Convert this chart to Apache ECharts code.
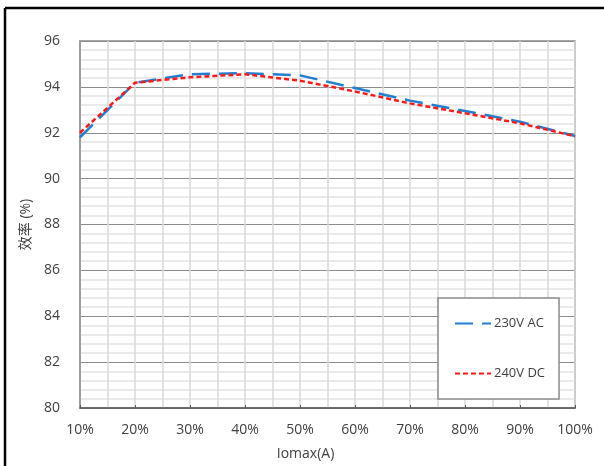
<!DOCTYPE html>
<html>
<head>
<meta charset="utf-8">
<script src="https://cdn.jsdelivr.net/npm/echarts@6/dist/echarts.min.js"></script>
<style>
html,body{margin:0;padding:0;background:#fff;}
#c{width:604px;height:466px;}
</style>
</head>
<body>
<div id="c"></div>
<script>
const loadPct = [10, 20, 30, 40, 50, 60, 70, 80, 90, 100];
const ac230 = [91.8, 94.18, 94.55, 94.6, 94.5, 93.95, 93.4, 92.95, 92.48, 91.86];
const dc240 = [92.0, 94.18, 94.42, 94.55, 94.27, 93.8, 93.28, 92.85, 92.41, 91.85];
const seriesNames = ['230V AC', '240V DC'];
const xAxisName = 'Iomax(A)';
const yAxisName = '效率 (%)';

const font = '"Open Sans", "Noto Sans CJK SC", sans-serif';
const chart = echarts.init(document.getElementById('c'), null, {renderer: 'canvas'});
chart.setOption({
  animation: false,
  backgroundColor: '#fff',
  textStyle: {fontFamily: font},
  grid: {left: 80, right: 29, top: 41, bottom: 58, show: true, borderColor: '#8c8c8c', borderWidth: 1.5},
  graphic: [
    {type: 'line', shape: {x1: 5, y1: 8, x2: 604, y2: 8}, style: {stroke: '#000', lineWidth: 2.5}},
    {type: 'line', shape: {x1: 5, y1: 8, x2: 5, y2: 466}, style: {stroke: '#000', lineWidth: 2.5}}
  ],
  legend: {
    orient: 'vertical',
    left: 438,
    top: 298,
    padding: [19, 14, 19, 16],
    itemGap: 37,
    itemWidth: 36,
    itemHeight: 14,
    backgroundColor: '#fff',
    borderColor: '#8c8c8c',
    borderWidth: 1.5,
    itemStyle: {opacity: 0},
    textStyle: {fontSize: 13, color: '#404040', fontFamily: font, padding: [0, 0, 0, -2]},
    data: seriesNames
  },
  xAxis: {
    type: 'value',
    min: 10, max: 100, interval: 10,
    name: xAxisName,
    nameLocation: 'middle',
    nameGap: 39,
    nameTextStyle: {fontSize: 14, color: '#404040', padding: [0, 44, 0, 0]},
    axisLine: {show: true, lineStyle: {color: '#595959', width: 1.5}},
    axisTick: {show: true, inside: true, length: 3, lineStyle: {color: '#595959'}},
    axisLabel: {formatter: '{value}%', fontSize: 14, color: '#404040', margin: 15},
    splitLine: {show: true, lineStyle: {color: '#d9d9d9', width: 1.5}},
    minorTick: {show: false, splitNumber: 2},
    minorSplitLine: {show: true, lineStyle: {color: '#d9d9d9', width: 1.5}}
  },
  yAxis: {
    type: 'value',
    min: 80, max: 96, interval: 2,
    name: yAxisName,
    nameLocation: 'middle',
    nameGap: 45,
    nameRotate: 90,
    nameTextStyle: {fontSize: 14, color: '#404040'},
    axisLine: {show: true, lineStyle: {color: '#8c8c8c', width: 1.5}},
    axisTick: {show: false},
    axisLabel: {fontSize: 14, color: '#404040', margin: 20},
    splitLine: {show: true, lineStyle: {color: '#8c8c8c', width: 1}},
    minorTick: {show: false, splitNumber: 5},
    minorSplitLine: {show: true, lineStyle: {color: '#e3e3e3', width: 1.5}}
  },
  series: [
    {
      name: seriesNames[0], type: 'line', symbol: 'none', z: 3,
      data: loadPct.map((x, i) => [x, ac230[i]]),
      lineStyle: {color: '#1f7fd0', width: 2.5, type: [18, 9]},
      itemStyle: {color: '#1f7fd0'}
    },
    {
      name: seriesNames[1], type: 'line', symbol: 'none', z: 4,
      data: loadPct.map((x, i) => [x, dc240[i]]),
      lineStyle: {color: '#ff1a1a', width: 2.5, type: [5, 3]},
      itemStyle: {color: '#ff1a1a'}
    }
  ]
});
</script>
</body>
</html>
